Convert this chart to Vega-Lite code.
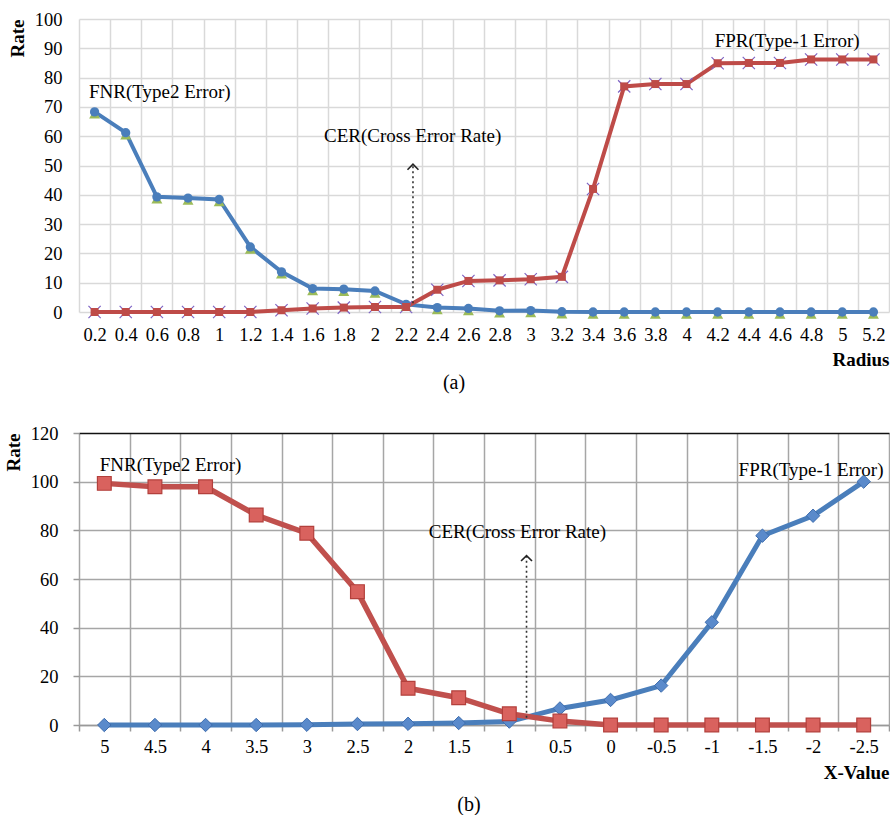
{
  "$schema": "https://vega.github.io/schema/vega-lite/v6.json",
  "padding": {"left": 4, "top": 10, "right": 0, "bottom": 0},
  "background": "white",
  "spacing": 31,
  "config": {
    "view": {"stroke": null},
    "font": "Liberation Serif",
    "axis": {"labelFont": "Liberation Serif", "titleFont": "Liberation Serif", "labelColor": "#000", "titleColor": "#000"},
    "text": {"font": "Liberation Serif"},
    "title": {"font": "Liberation Serif", "color": "#000"}
  },
  "datasets": {
    "a": [
      {"radius": "0.2", "series": "FNR", "rate": 68.3}, {"radius": "0.4", "series": "FNR", "rate": 61.2},
      {"radius": "0.6", "series": "FNR", "rate": 39.3}, {"radius": "0.8", "series": "FNR", "rate": 38.9},
      {"radius": "1", "series": "FNR", "rate": 38.4}, {"radius": "1.2", "series": "FNR", "rate": 22.2},
      {"radius": "1.4", "series": "FNR", "rate": 13.7}, {"radius": "1.6", "series": "FNR", "rate": 8.0},
      {"radius": "1.8", "series": "FNR", "rate": 7.8}, {"radius": "2", "series": "FNR", "rate": 7.2},
      {"radius": "2.2", "series": "FNR", "rate": 2.6}, {"radius": "2.4", "series": "FNR", "rate": 1.5},
      {"radius": "2.6", "series": "FNR", "rate": 1.2}, {"radius": "2.8", "series": "FNR", "rate": 0.4},
      {"radius": "3", "series": "FNR", "rate": 0.5}, {"radius": "3.2", "series": "FNR", "rate": 0.1},
      {"radius": "3.4", "series": "FNR", "rate": 0}, {"radius": "3.6", "series": "FNR", "rate": 0},
      {"radius": "3.8", "series": "FNR", "rate": 0}, {"radius": "4", "series": "FNR", "rate": 0},
      {"radius": "4.2", "series": "FNR", "rate": 0}, {"radius": "4.4", "series": "FNR", "rate": 0},
      {"radius": "4.6", "series": "FNR", "rate": 0}, {"radius": "4.8", "series": "FNR", "rate": 0},
      {"radius": "5", "series": "FNR", "rate": 0}, {"radius": "5.2", "series": "FNR", "rate": 0},
      {"radius": "0.2", "series": "FPR", "rate": 0}, {"radius": "0.4", "series": "FPR", "rate": 0},
      {"radius": "0.6", "series": "FPR", "rate": 0}, {"radius": "0.8", "series": "FPR", "rate": 0},
      {"radius": "1", "series": "FPR", "rate": 0}, {"radius": "1.2", "series": "FPR", "rate": 0},
      {"radius": "1.4", "series": "FPR", "rate": 0.6}, {"radius": "1.6", "series": "FPR", "rate": 1.2},
      {"radius": "1.8", "series": "FPR", "rate": 1.5}, {"radius": "2", "series": "FPR", "rate": 1.7},
      {"radius": "2.2", "series": "FPR", "rate": 1.7}, {"radius": "2.4", "series": "FPR", "rate": 7.6},
      {"radius": "2.6", "series": "FPR", "rate": 10.6}, {"radius": "2.8", "series": "FPR", "rate": 10.8},
      {"radius": "3", "series": "FPR", "rate": 11.2}, {"radius": "3.2", "series": "FPR", "rate": 12.0},
      {"radius": "3.4", "series": "FPR", "rate": 42.0}, {"radius": "3.6", "series": "FPR", "rate": 77.0},
      {"radius": "3.8", "series": "FPR", "rate": 77.8}, {"radius": "4", "series": "FPR", "rate": 77.8},
      {"radius": "4.2", "series": "FPR", "rate": 84.9}, {"radius": "4.4", "series": "FPR", "rate": 85.0},
      {"radius": "4.6", "series": "FPR", "rate": 85.0}, {"radius": "4.8", "series": "FPR", "rate": 86.2},
      {"radius": "5", "series": "FPR", "rate": 86.2}, {"radius": "5.2", "series": "FPR", "rate": 86.2}
    ],
    "b": [
      {"xv": "5", "series": "FNR", "rate": 99.3}, {"xv": "4.5", "series": "FNR", "rate": 97.9},
      {"xv": "4", "series": "FNR", "rate": 97.9}, {"xv": "3.5", "series": "FNR", "rate": 86.3},
      {"xv": "3", "series": "FNR", "rate": 78.8}, {"xv": "2.5", "series": "FNR", "rate": 54.8},
      {"xv": "2", "series": "FNR", "rate": 15.1}, {"xv": "1.5", "series": "FNR", "rate": 11.2},
      {"xv": "1", "series": "FNR", "rate": 4.6}, {"xv": "0.5", "series": "FNR", "rate": 1.6},
      {"xv": "0", "series": "FNR", "rate": 0}, {"xv": "-0.5", "series": "FNR", "rate": 0},
      {"xv": "-1", "series": "FNR", "rate": 0}, {"xv": "-1.5", "series": "FNR", "rate": 0},
      {"xv": "-2", "series": "FNR", "rate": 0}, {"xv": "-2.5", "series": "FNR", "rate": 0},
      {"xv": "5", "series": "FPR", "rate": 0}, {"xv": "4.5", "series": "FPR", "rate": 0},
      {"xv": "4", "series": "FPR", "rate": 0}, {"xv": "3.5", "series": "FPR", "rate": 0},
      {"xv": "3", "series": "FPR", "rate": 0.1}, {"xv": "2.5", "series": "FPR", "rate": 0.4},
      {"xv": "2", "series": "FPR", "rate": 0.5}, {"xv": "1.5", "series": "FPR", "rate": 0.8},
      {"xv": "1", "series": "FPR", "rate": 1.4}, {"xv": "0.5", "series": "FPR", "rate": 6.8},
      {"xv": "0", "series": "FPR", "rate": 10.3}, {"xv": "-0.5", "series": "FPR", "rate": 16.2},
      {"xv": "-1", "series": "FPR", "rate": 42.2}, {"xv": "-1.5", "series": "FPR", "rate": 77.8},
      {"xv": "-2", "series": "FPR", "rate": 86.0}, {"xv": "-2.5", "series": "FPR", "rate": 100.0}
    ]
  },
  "vconcat": [
    {
      "width": 810,
      "height": 293,
      "title": {"text": "(a)", "orient": "bottom", "fontSize": 20, "fontWeight": "normal", "dx": -30, "offset": 3},
      "data": {"name": "a"},
      "encoding": {
        "x": {
          "field": "radius", "type": "ordinal", "bandPosition": 0.5,
          "scale": {"type": "band", "paddingInner": 0, "paddingOuter": 0,
            "domain": ["0.2","0.4","0.6","0.8","1","1.2","1.4","1.6","1.8","2","2.2","2.4","2.6","2.8","3","3.2","3.4","3.6","3.8","4","4.2","4.4","4.6","4.8","5","5.2"]},
          "axis": {
            "title": "Radius", "titleAnchor": "end", "titleFont": "Liberation Serif", "titleFontSize": 19, "titleFontWeight": "bold", "titlePadding": 7,
            "labelFont": "Liberation Serif", "labelFontSize": 18.5, "labelAngle": 0, "labelPadding": 13, "labelOverlap": false,
            "ticks": false, "tickBand": "extent", "domain": false,
            "grid": true, "gridColor": "#d9d9d9", "gridWidth": 1.5
          }
        },
        "y": {
          "field": "rate", "type": "quantitative",
          "scale": {"domain": [0, 100], "nice": false},
          "axis": {
            "title": "Rate", "titleAnchor": "end", "titleFont": "Liberation Serif", "titleFontSize": 19, "titleFontWeight": "bold", "titlePadding": 7,
            "values": [0, 10, 20, 30, 40, 50, 60, 70, 80, 90, 100],
            "labelFont": "Liberation Serif", "labelFontSize": 18.5, "labelPadding": 17, "ticks": false, "domain": false,
            "grid": true, "gridColor": "#d9d9d9", "gridWidth": 1.5
          }
        }
      },
      "layer": [
        {
          "transform": [{"filter": "datum.series === 'FNR'"}],
          "mark": {"type": "line", "strokeWidth": 4, "color": "#4A7EBB"}
        },
        {
          "transform": [{"filter": "datum.series === 'FPR'"}],
          "mark": {"type": "line", "strokeWidth": 4, "color": "#BE4B48"}
        },
        {
          "transform": [{"filter": "datum.series === 'FNR'"}],
          "mark": {"type": "point", "shape": "triangle-up", "filled": true, "color": "#9BBB59", "size": 120, "opacity": 1, "yOffset": 2}
        },
        {
          "transform": [{"filter": "datum.series === 'FNR'"}],
          "mark": {"type": "circle", "color": "#4A7EBB", "size": 86, "opacity": 1}
        },
        {
          "transform": [{"filter": "datum.series === 'FPR'"}],
          "mark": {"type": "point", "shape": "M-1,-1L1,1M-1,1L1,-1", "filled": false, "stroke": "#7E64C4", "strokeWidth": 1.2, "size": 150, "opacity": 1}
        },
        {
          "transform": [{"filter": "datum.series === 'FPR'"}],
          "mark": {"type": "square", "color": "#BE4B48", "size": 64, "opacity": 1}
        },
        {
          "data": {"values": [{"note": "CER", "radius": "2.2", "low": 3, "high": 50}]},
          "mark": {"type": "rule", "strokeDash": [2, 3], "strokeWidth": 1.6, "color": "#333"},
          "encoding": {
            "x": {"field": "radius", "type": "ordinal", "bandPosition": 0.72},
            "y": {"field": "low", "type": "quantitative"},
            "y2": {"field": "high"}
          }
        },
        {
          "data": {"values": [{"note": "CER", "radius": "2.2", "high": 49.5}]},
          "mark": {"type": "point", "shape": "M-1,0.5L0,-0.5L1,0.5", "filled": false, "stroke": "#222", "strokeWidth": 1.6, "size": 120, "opacity": 1},
          "encoding": {
            "x": {"field": "radius", "type": "ordinal", "bandPosition": 0.72},
            "y": {"field": "high", "type": "quantitative"}
          }
        },
        {
          "data": {"values": [{"label": "FNR(Type2 Error)", "radius": "0.2", "rate": 75}]},
          "mark": {"type": "text", "align": "left", "baseline": "middle", "fontSize": 19, "font": "Liberation Serif", "color": "#000"},
          "encoding": {
            "x": {"field": "radius", "type": "ordinal", "bandPosition": 0.32},
            "text": {"field": "label"}
          }
        },
        {
          "data": {"values": [{"label": "CER(Cross Error Rate)", "radius": "2.2", "rate": 60}]},
          "mark": {"type": "text", "align": "center", "baseline": "middle", "fontSize": 19, "font": "Liberation Serif", "color": "#000"},
          "encoding": {
            "x": {"field": "radius", "type": "ordinal", "bandPosition": 0.71},
            "text": {"field": "label"}
          }
        },
        {
          "data": {"values": [{"label": "FPR(Type-1 Error)", "radius": "4.6", "rate": 92.5}]},
          "mark": {"type": "text", "align": "center", "baseline": "middle", "fontSize": 19, "font": "Liberation Serif", "color": "#000"},
          "encoding": {
            "x": {"field": "radius", "type": "ordinal", "bandPosition": 0.73},
            "text": {"field": "label"}
          }
        }
      ]
    },
    {
      "width": 810,
      "height": 292,
      "title": {"text": "(b)", "orient": "bottom", "fontSize": 20, "fontWeight": "normal", "dx": -15, "offset": 12},
      "data": {"name": "b"},
      "encoding": {
        "x": {
          "field": "xv", "type": "ordinal", "bandPosition": 0.5,
          "scale": {"type": "band", "paddingInner": 0, "paddingOuter": 0,
            "domain": ["5","4.5","4","3.5","3","2.5","2","1.5","1","0.5","0","-0.5","-1","-1.5","-2","-2.5"]},
          "axis": {
            "title": "X-Value", "titleAnchor": "end", "titleFont": "Liberation Serif", "titleFontSize": 19, "titleFontWeight": "bold", "titlePadding": 8,
            "labelFont": "Liberation Serif", "labelFontSize": 18.5, "labelAngle": 0, "labelPadding": 6, "labelOverlap": false,
            "ticks": true, "tickBand": "extent", "tickSize": 6, "tickColor": "#999", "tickWidth": 1.5,
            "domain": true, "domainColor": "#999", "domainWidth": 1.5,
            "grid": true, "gridColor": "#a6a6a6", "gridWidth": 1.5
          }
        },
        "y": {
          "field": "rate", "type": "quantitative",
          "scale": {"domain": [0, 120], "nice": false},
          "axis": {
            "title": "Rate", "titleAnchor": "end", "titleFont": "Liberation Serif", "titleFontSize": 19, "titleFontWeight": "bold", "titlePadding": 7,
            "values": [0, 20, 40, 60, 80, 100, 120],
            "labelFont": "Liberation Serif", "labelFontSize": 18.5, "labelPadding": 15, "ticks": true, "tickSize": 6, "tickColor": "#999", "tickWidth": 1.5,
            "domain": false,
            "grid": true, "gridWidth": 1.5,
            "gridColor": {"condition": {"test": "datum.value === 120", "value": "#111"}, "value": "#a6a6a6"}
          }
        }
      },
      "layer": [
        {
          "transform": [{"filter": "datum.series === 'FPR'"}],
          "mark": {"type": "line", "strokeWidth": 5, "color": "#4A7EBB"}
        },
        {
          "transform": [{"filter": "datum.series === 'FNR'"}],
          "mark": {"type": "line", "strokeWidth": 5.5, "color": "#C0504D"}
        },
        {
          "data": {"values": [{"note": "CER", "xv": "1", "low": 3, "high": 69}]},
          "mark": {"type": "rule", "strokeDash": [2, 3], "strokeWidth": 1.6, "color": "#333"},
          "encoding": {
            "x": {"field": "xv", "type": "ordinal", "bandPosition": 0.84},
            "y": {"field": "low", "type": "quantitative"},
            "y2": {"field": "high"}
          }
        },
        {
          "data": {"values": [{"note": "CER", "xv": "1", "high": 68.5}]},
          "mark": {"type": "point", "shape": "M-1,0.5L0,-0.5L1,0.5", "filled": false, "stroke": "#222", "strokeWidth": 1.6, "size": 120, "opacity": 1},
          "encoding": {
            "x": {"field": "xv", "type": "ordinal", "bandPosition": 0.84},
            "y": {"field": "high", "type": "quantitative"}
          }
        },
        {
          "transform": [{"filter": "datum.series === 'FPR'"}],
          "mark": {"type": "point", "shape": "diamond", "filled": true, "fill": "#5A8ACB", "stroke": "#3E6DAE", "strokeWidth": 1, "size": 180, "opacity": 1}
        },
        {
          "transform": [{"filter": "datum.series === 'FNR'"}],
          "mark": {"type": "square", "fill": "#D9625E", "stroke": "#B3403C", "strokeWidth": 1.2, "size": 190, "opacity": 1}
        },
        {
          "data": {"values": [{"label": "FNR(Type2 Error)", "xv": "5", "rate": 107}]},
          "mark": {"type": "text", "align": "left", "baseline": "middle", "fontSize": 19, "font": "Liberation Serif", "color": "#000"},
          "encoding": {
            "x": {"field": "xv", "type": "ordinal", "bandPosition": 0.41},
            "text": {"field": "label"}
          }
        },
        {
          "data": {"values": [{"label": "CER(Cross Error Rate)", "xv": "1", "rate": 79.5}]},
          "mark": {"type": "text", "align": "center", "baseline": "middle", "fontSize": 19, "font": "Liberation Serif", "color": "#000"},
          "encoding": {
            "x": {"field": "xv", "type": "ordinal", "bandPosition": 0.66},
            "text": {"field": "label"}
          }
        },
        {
          "data": {"values": [{"label": "FPR(Type-1 Error)", "xv": "-2", "rate": 105}]},
          "mark": {"type": "text", "align": "center", "baseline": "middle", "fontSize": 19, "font": "Liberation Serif", "color": "#000"},
          "encoding": {
            "x": {"field": "xv", "type": "ordinal", "bandPosition": 0.46},
            "text": {"field": "label"}
          }
        }
      ]
    }
  ]
}
